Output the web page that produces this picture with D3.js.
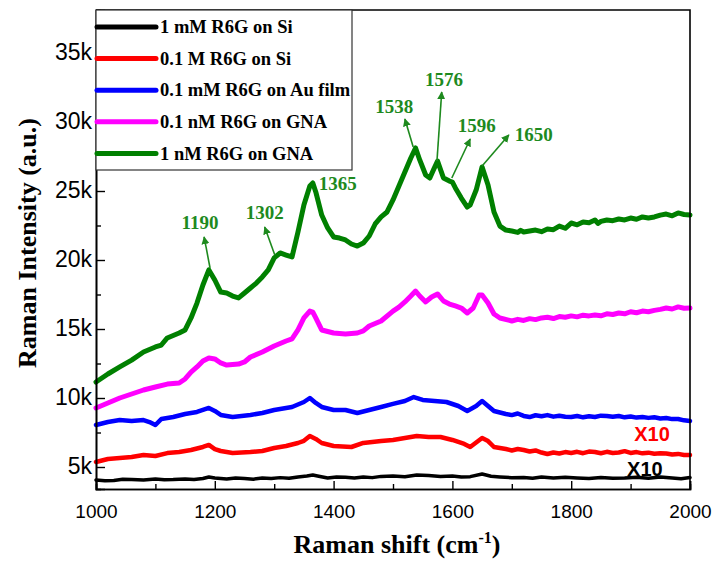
<!DOCTYPE html>
<html><head><meta charset="utf-8">
<script src="https://cdn.jsdelivr.net/npm/d3@7/dist/d3.min.js"></script>
<style>body{margin:0;background:#fff}svg{display:block}</style>
</head><body>
<svg id="c" width="713" height="562"></svg>
<script>
// ---- data ----
const seriesNames = ["1 mM R6G on Si","0.1 M R6G on Si","0.1 mM R6G on Au film","0.1 nM R6G on GNA","1 nM R6G on GNA"];
const seriesColors = ["#000000","#ff0000","#0000ff","#ff00ff","#008000"];

const blackX = [1000,1015,1030,1045,1060,1080,1100,1115,1130,1150,1165,1180,1190,1200,1220,1235,1250,1265,1280,1295,1310,1325,1340,1355,1365,1375,1390,1405,1420,1435,1450,1465,1480,1500,1520,1540,1560,1580,1600,1615,1630,1650,1665,1680,1700,1720,1735,1750,1770,1790,1810,1830,1850,1870,1890,1910,1930,1950,1970,1985,2000];
const blackY = [4060,4000,4030,4110,4100,4060,4130,4080,4090,4130,4090,4170,4280,4200,4130,4200,4170,4120,4200,4160,4230,4180,4280,4350,4420,4330,4200,4280,4250,4200,4280,4230,4320,4350,4300,4420,4380,4320,4350,4280,4300,4490,4330,4280,4230,4240,4190,4280,4200,4250,4200,4160,4240,4180,4200,4260,4190,4280,4200,4150,4240];

const redX = [1000,1020,1040,1060,1080,1100,1120,1140,1160,1180,1190,1200,1210,1230,1260,1280,1300,1320,1340,1350,1360,1370,1380,1400,1430,1450,1480,1500,1520,1540,1560,1580,1600,1620,1630,1650,1660,1670,1690,1700,1710,1720,1730,1740,1750,1760,1770,1780,1790,1800,1810,1820,1830,1840,1850,1860,1870,1880,1890,1900,1910,1920,1930,1940,1950,1960,1970,1980,1990,2000];
const redY = [5360,5580,5650,5720,5870,5800,6010,6090,6230,6450,6600,6300,6160,6020,6090,6160,6380,6520,6740,6900,7250,7030,6740,6520,6450,6740,6880,6960,7100,7250,7180,7170,6960,6670,6450,7100,6880,6450,6300,6200,6300,6230,6120,6200,6050,5940,6050,5980,6080,6020,6100,6000,6120,6090,6000,6100,6020,6050,6150,6020,6080,5990,6040,5960,6000,5980,5900,5950,5870,5870];

const blueX = [1000,1020,1040,1060,1080,1090,1100,1110,1130,1150,1170,1190,1200,1210,1230,1260,1280,1300,1330,1350,1360,1370,1380,1400,1420,1440,1460,1480,1500,1520,1535,1550,1570,1590,1610,1625,1640,1650,1660,1670,1690,1700,1710,1720,1730,1740,1750,1760,1770,1780,1790,1800,1810,1820,1830,1840,1850,1860,1870,1880,1890,1900,1910,1920,1930,1940,1950,1960,1970,1980,1990,2000];
const blueY = [8040,8260,8400,8330,8400,8260,8040,8480,8620,8840,8990,9280,9060,8770,8620,8770,8910,9130,9350,9710,10000,9640,9350,9130,9130,8910,9130,9350,9570,9780,10070,9860,9780,9710,9420,9060,9420,9780,9420,9060,8840,8760,8880,8700,8620,8750,8680,8760,8650,8720,8640,8620,8700,8600,8680,8620,8720,8700,8640,8700,8600,8660,8580,8620,8560,8600,8520,8550,8470,8480,8380,8330];

const pinkX = [1000,1020,1040,1060,1080,1100,1120,1140,1150,1160,1170,1180,1190,1200,1210,1220,1240,1250,1260,1280,1300,1320,1330,1340,1350,1360,1365,1370,1380,1400,1420,1440,1450,1460,1480,1500,1510,1520,1530,1538,1545,1555,1565,1575,1585,1595,1605,1615,1625,1635,1645,1650,1660,1670,1680,1700,1710,1720,1730,1740,1750,1760,1770,1780,1790,1800,1810,1820,1830,1840,1850,1860,1870,1880,1890,1900,1910,1920,1930,1940,1950,1960,1970,1980,1990,2000];
const pinkY = [9280,9640,10000,10290,10580,10800,11010,11090,11380,11880,12250,12680,12900,12830,12540,12390,12460,12610,12970,13330,13770,14130,14280,14930,15800,16300,16230,15800,14930,14710,14640,14710,14860,15220,15580,16300,16590,16960,17390,17750,17390,16960,17320,17540,17030,16810,16670,16520,16160,16520,17460,17460,16880,16090,15800,15580,15700,15620,15750,15680,15800,15850,15760,15900,15850,15950,15880,16000,15950,16020,15960,16100,16050,16160,16100,16250,16180,16300,16250,16350,16420,16520,16450,16600,16500,16520];

const greenX = [1000,1020,1040,1060,1080,1100,1110,1120,1140,1150,1160,1170,1180,1190,1200,1210,1220,1230,1240,1250,1260,1270,1280,1290,1300,1310,1320,1330,1340,1350,1360,1365,1370,1380,1390,1400,1410,1420,1430,1440,1450,1460,1470,1480,1490,1500,1510,1520,1530,1538,1545,1555,1562,1568,1575,1585,1595,1600,1605,1615,1625,1630,1640,1650,1660,1670,1680,1690,1700,1710,1715,1720,1730,1740,1750,1760,1770,1780,1790,1800,1810,1820,1830,1840,1845,1850,1860,1870,1880,1890,1900,1910,1920,1930,1940,1950,1960,1970,1980,1990,2000];
const greenY = [11160,11740,12250,12750,13330,13700,13840,14350,14710,14930,15800,16880,18190,19280,18550,17680,17610,17390,17250,17610,17970,18330,18770,19280,20150,20510,20360,20220,22030,23990,25360,25580,24930,23260,22320,21670,21590,21450,21160,21010,21230,21740,22610,23120,23480,24350,25360,26380,27390,28120,27250,26160,25940,26520,27170,25940,25720,25650,25220,24490,23840,23990,25070,26740,25440,23480,22460,22170,22100,22000,22150,22030,22100,22170,22050,22250,22200,22460,22300,22680,22550,22750,22700,22900,22650,22800,22900,22850,22970,22900,23040,22950,23120,23050,23120,23250,23330,23200,23410,23300,23260];

const xTicks = [1000,1200,1400,1600,1800,2000];
const xMinor = [1100,1300,1500,1700,1900];
const yTicks = [5000,10000,15000,20000,25000,30000,35000];
const yMinor = [7500,12500,17500,22500,27500,32500,37500];

const annLabels = ["1190","1302","1365","1538","1576","1596","1650"];
const annTextX = [1175,1284,1407,1502,1586,1641,1737];
const annTextY = [22750,23480,25580,31160,33120,29780,29130];
const annArrow = [[1192,19420,1182,21670],[1301,20360,1284,22390],null,[1534,28190,1520,30220],[1574,27170,1582,32170],[1599,25940,1630,28770],[1650,26810,1695,29060]];

const scaleNotes = ["X10","X10"];
const scaleNoteX = [1936,1924];
const scaleNoteY = [7390,4860];
const scaleNoteColor = ["#ff0000","#000000"];

// ---- layout ----
const L = 96, R = 690, T = 10, B = 489;
const svg = d3.select("#c");
const x = d3.scaleLinear().domain([1000,2000]).range([L,R]);
const y = d3.scaleLinear().domain([3406,38116]).range([B,T]);

const series = [
  {x:blackX,y:blackY,w:3.5},
  {x:redX,y:redY,w:4.5},
  {x:blueX,y:blueY,w:4.5},
  {x:pinkX,y:pinkY,w:5},
  {x:greenX,y:greenY,w:5}
];
const line = d3.line().x(d=>x(d[0])).y(d=>y(d[1]));

const gLines = svg.append("g");
series.forEach((s,i)=>{
  const pts = s.x.map((v,j)=>[v,s.y[j]]);
  gLines.append("path").attr("d",line(pts)).attr("fill","none")
    .attr("stroke",seriesColors[i]).attr("stroke-width",s.w)
    .attr("stroke-linejoin","round").attr("stroke-linecap","round");
});

// axes (ticks inward)
const xAx = svg.append("g").attr("transform",`translate(0,${B})`)
  .call(d3.axisBottom(x).tickValues(xTicks).tickSize(-8).tickPadding(16).tickFormat(d3.format("d")));
svg.append("g").attr("transform",`translate(0,${B})`)
  .call(d3.axisBottom(x).tickValues(xMinor).tickSize(-5).tickFormat(""));
const yAx = svg.append("g").attr("transform",`translate(${L},0)`)
  .call(d3.axisLeft(y).tickValues(yTicks).tickSize(-9).tickPadding(4).tickFormat(d=>d/1000+"k"));
svg.append("g").attr("transform",`translate(${L},0)`)
  .call(d3.axisLeft(y).tickValues(yMinor).tickSize(-5).tickFormat(""));
svg.selectAll(".domain").attr("stroke","#000").attr("stroke-width",1.6);
svg.selectAll(".tick line").attr("stroke","#000").attr("stroke-width",1.4);
xAx.selectAll("text").attr("font-family","Liberation Sans, Arial, sans-serif").attr("font-size",19).attr("fill","#000");
yAx.selectAll("text").attr("font-family","Liberation Sans, Arial, sans-serif").attr("font-size",23).attr("fill","#000").attr("dy","0.28em");

// frame top/right
svg.append("path").attr("d",`M${L},${T}H${R}V${B}`).attr("fill","none").attr("stroke","#000").attr("stroke-width",1.6);

// annotations
const annColor = "#1e8a1e";
svg.append("defs").append("marker").attr("id","ah").attr("viewBox","0 0 10 10")
  .attr("refX",9).attr("refY",5).attr("markerWidth",8).attr("markerHeight",8)
  .attr("markerUnits","userSpaceOnUse").attr("orient","auto")
  .append("path").attr("d","M0,0L10,5L0,10z").attr("fill",annColor);
annLabels.forEach((t,i)=>{
  svg.append("text").attr("x",x(annTextX[i])).attr("y",y(annTextY[i])).attr("dy","0.35em")
    .attr("text-anchor","middle").attr("font-family","Liberation Serif, Times New Roman, serif")
    .attr("font-weight","bold").attr("font-size",19).attr("fill",annColor).text(t);
  const a = annArrow[i];
  if(a){
    svg.append("line").attr("x1",x(a[0])).attr("y1",y(a[1])).attr("x2",x(a[2])).attr("y2",y(a[3]))
      .attr("stroke",annColor).attr("stroke-width",1.6).attr("marker-end","url(#ah)");
  }
});
scaleNotes.forEach((t,i)=>{
  svg.append("text").attr("x",x(scaleNoteX[i])).attr("y",y(scaleNoteY[i])).attr("dy","0.35em")
    .attr("text-anchor","middle").attr("font-family","Liberation Sans, Arial, sans-serif")
    .attr("font-weight","bold").attr("font-size",20).attr("fill",scaleNoteColor[i]).text(t);
});

// legend
const lg = svg.append("g");
lg.append("rect").attr("x",L).attr("y",T).attr("width",256).attr("height",160)
  .attr("fill","#fff").attr("stroke","#333").attr("stroke-width",1.2);
seriesNames.forEach((n,i)=>{
  const yy = T + 17 + i*31.6;
  lg.append("line").attr("x1",L+1).attr("x2",L+60).attr("y1",yy).attr("y2",yy)
    .attr("stroke",seriesColors[i]).attr("stroke-width",5).attr("stroke-linecap","round");
  lg.append("text").attr("x",L+64).attr("y",yy).attr("dy","0.33em")
    .attr("font-family","Liberation Serif, Times New Roman, serif").attr("font-weight","bold")
    .attr("font-size",18.5).attr("fill","#000").text(n);
});

// axis titles
svg.append("text").attr("transform",`translate(36,${243}) rotate(-90)`).attr("text-anchor","middle")
  .attr("font-family","Liberation Serif, Times New Roman, serif").attr("font-weight","bold")
  .attr("font-size",26).attr("fill","#000").text("Raman Intensity (a.u.)");
const xt = svg.append("text").attr("x",(L+R)/2+4).attr("y",553).attr("text-anchor","middle")
  .attr("font-family","Liberation Serif, Times New Roman, serif").attr("font-weight","bold")
  .attr("font-size",26).attr("fill","#000");
xt.append("tspan").text("Raman shift (cm");
xt.append("tspan").attr("font-size",16).attr("dy",-10).text("-1");
xt.append("tspan").attr("dy",10).text(")");
</script>
</body></html>
